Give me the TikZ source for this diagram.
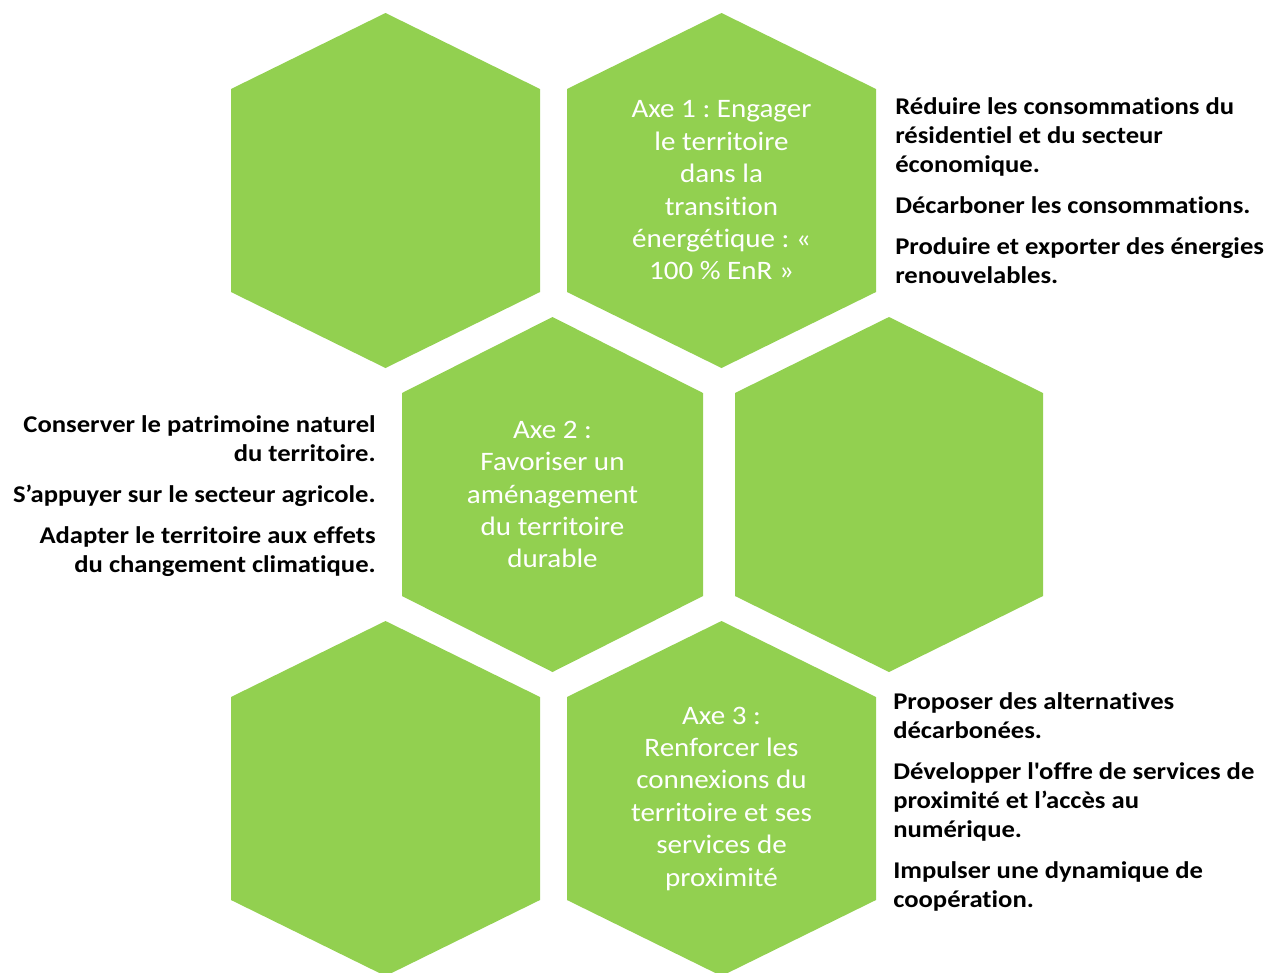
\documentclass[tikz,border=0pt]{standalone}
\usepackage{fontspec}
\setmainfont{Carlito}
\newfontfamily\carlw{Carlito}[FakeStretch=1.09, Ligatures=NoCommon]
\newfontfamily\carlb{Carlito}[FakeStretch=1.11, Ligatures=NoCommon]
\definecolor{hexgreen}{HTML}{92D050}
\frenchspacing
\tikzset{
  hexfill/.style={fill=hexgreen},
  hextext/.style={text=white, align=center, inner sep=0pt,
    font=\carlw\frenchspacing\fontsize{20}{24.3}\selectfont},
  sidetext/.style={text=black, inner sep=0pt,
    font=\carlb\frenchspacing\bfseries\fontsize{18}{21.75}\selectfont},
}
% name, centre x, top y, half width
\newcommand\hexshape[4]{%
  \fill[hexfill] (#2,#3) -- ++(#4,76) -- ++(0,203) -- ++(-#4,76)
    -- ++(-#4,-76) -- ++(0,-203) -- cycle;
  \coordinate (#1) at (#2,#3+177.5);
}
\begin{document}
\begin{tikzpicture}[x=0.75pt,y=-0.75pt]
\useasboundingbox (0,0) rectangle (1268,972);
\clip (0,0) rectangle (1268,972);
\hexshape{h1}{385.5}{13}{154.5}
\hexshape{h2}{721.5}{13}{154.5}
\hexshape{h3}{552.5}{317}{150.5}
\hexshape{h4}{889}{317}{154}
\hexshape{h5}{385.5}{621}{154.5}
\hexshape{h6}{721.5}{621}{154.5}

\node[hextext] (t1) at (h2) {Axe 1 : Engager\\le territoire\\dans la\\transition\\énergétique : «\\100 \% EnR »};
\node[hextext] (t2) at (h3) {Axe 2 :\\Favoriser un\\aménagement\\du territoire\\durable};
\node[hextext] (t3) at (h6) {Axe 3 :\\Renforcer les\\connexions du\\territoire et ses\\services de\\proximité};

\node[sidetext, align=left, anchor=north west] (s1) at (895,97)
  {Réduire les consommations du\\résidentiel et du secteur\\économique.\\[9.1pt]Décarboner les consommations.\\[9.1pt]Produire et exporter des énergies\\renouvelables.};
\node[sidetext, align=right, anchor=north east] (s2) at (376,415)
  {Conserver le patrimoine naturel\\du territoire.\\[9.1pt]S’appuyer sur le secteur agricole.\\[9.1pt]Adapter le territoire aux effets\\du changement climatique.};
\node[sidetext, align=left, anchor=north west] (s3) at (893,692)
  {Proposer des alternatives\\décarbonées.\\[9.1pt]Développer l'offre de services de\\proximité et l’accès au\\numérique.\\[9.1pt]Impulser une dynamique de\\coopération.};
\end{tikzpicture}
\end{document}
